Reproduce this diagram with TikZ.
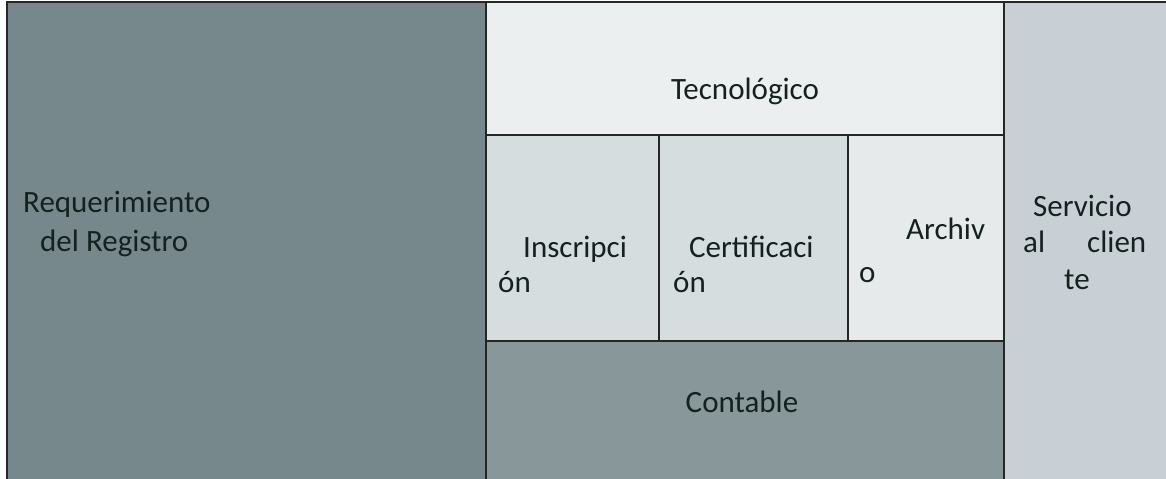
\documentclass[tikz,border=0pt]{standalone}
\usepackage{fontspec}
\setmainfont{Carlito}
\definecolor{reqc}{HTML}{77888C}
\definecolor{tecc}{HTML}{ECEFF0}
\definecolor{insc}{HTML}{D6DDDE}
\definecolor{arcc}{HTML}{E6EAEB}
\definecolor{conc}{HTML}{87979A}
\definecolor{servc}{HTML}{C8D0D5}
\definecolor{txt}{HTML}{14211F}
\begin{document}
\begin{tikzpicture}[x=1bp,y=-1bp,
  box/.style={draw=black!85,line width=1.2bp},
  lbl/.style={anchor=base west,inner sep=0,text=txt,font=\fontsize{31bp}{37bp}\selectfont},
  clbl/.style={lbl,anchor=base}]
\useasboundingbox (0,0) rectangle (1166,479);
\fill[white] (0,0) rectangle (1166,479);
% blocks
\fill[servc] (1004,2) rectangle (1166,479);
\fill[reqc] (7,2) rectangle (486,479);
\fill[tecc] (486,2) rectangle (1004,135);
\fill[insc] (486,135) rectangle (659,341);
\fill[insc] (659,135) rectangle (848,341);
\fill[arcc] (848,135) rectangle (1004,341);
\fill[conc] (486,341) rectangle (1004,479);
% borders
\draw[box] (7,479) -- (7,2) -- (1166,2);
\draw[box] (486,2) -- (486,479);
\draw[box] (1004,2) -- (1004,479);
\draw[box] (486,135) -- (1004,135);
\draw[box] (486,341) -- (1004,341);
\draw[box] (659,135) -- (659,341);
\draw[box] (848,135) -- (848,341);
% texts
\node[lbl] (req1) at (23,213) {Requerimiento};
\node[lbl] (req2) at (40,252) {del Registro};
\node[clbl] (tec) at (745,100) {Tecnológico};
\node[lbl] (ins1) at (523,258) {Inscripci};
\node[lbl] (ins2) at (498,293) {ón};
\node[lbl] (cer1) at (689,258) {Certificaci};
\node[lbl] (cer2) at (673,293) {ón};
\node[lbl] (arc1) at (906,240) {Archiv};
\node[lbl] (arc2) at (859,283) {o};
\node[lbl] (ser1) at (1033,217) {Servicio};
\node[lbl] (ser2) at (1023,253) {al};
\node[lbl] (ser3) at (1087,253) {clien};
\node[lbl] (ser4) at (1064,290) {te};
\node[clbl] (con) at (742,412) {Contable};
\end{tikzpicture}
\end{document}
